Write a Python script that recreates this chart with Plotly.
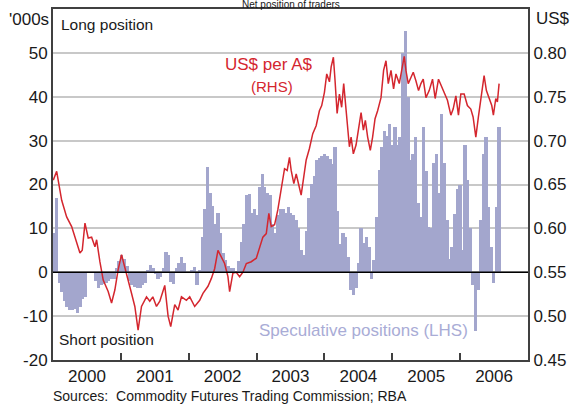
import plotly.graph_objects as go

# ---------------- data ----------------
# Speculative net positions ('000s contracts), fortnightly from early Jan 2000
spec_2000 = [9, 17, -2.5, -4.5, -6.5, -8, -8.6, -8.5, -8.3, -9.3, -7.9, -6, -5.6,
             0, 0, 0, -2, -3.5, -3, -2.6, -2.5, -2, -1.5, -1.5, 1.0, 2.5]
spec_2001 = [4, 3, 1.5, -2, -3, -3.3, -3.5, -3.5, -3, -2.5, 0.5, 1.6, 1, -0.5,
             -1.5, -1, 1, 4.6, 4, -2.2, -2.6, 1, 2, 3.5, 2, 0]
spec_2002 = [0, 0.5, 1.2, -3, 0.5, 8, 14.5, 24, 18, 15, 11, 13.5, 9, 4.3, 2.7,
             1.5, 1, 0.9, 0.3, 2.5, 7, 11, 17.5, 17.9, 13.5, 14.5]
spec_2003 = [13, 19.4, 22.5, 19.4, 18, 17.5, 11, 9, 13, 14.5, 14.5, 13.5, 14.8,
             13.5, 13, 12, 10, 5, 4, 9.5, 17, 20.2, 22, 25.5, 26, 26.6]
spec_2004 = [27, 26.5, 25.8, 24.7, 28.5, 14, 6.5, 9, 8, 3.5, -4, -5.2, -3.5, 2,
             10, 6.6, 8, 5.8, -1.5, 2.7, 12.6, 23.2, 28.5, 32.3, 31, 33.8]
spec_2005 = [29, 33, 29, 30.8, 50, 55, 40, 25.5, 27, 30.8, 15.7, 12.6, 33, 23,
             10.3, 10, 25, 27, 18, 36, 25, 12, 3, 5.8, 13.3, 19]
spec_2006 = [20, 5, 29, 21, 10, -3, -13.5, -4, 12, 27, 30.8, 14.8, 5.8, -2.5,
             14.8, 33]
spec_positions = spec_2000 + spec_2001 + spec_2002 + spec_2003 + spec_2004 + spec_2005 + spec_2006
first_bar_day = 6          # day of year of first observation
bar_step_days = 14         # fortnightly observations

# US$ per A$ (RHS): time in decimal years, value in US$
aud_year = [2000.004, 2000.054, 2000.128, 2000.201, 2000.275, 2000.349, 2000.397, 2000.431,
            2000.471, 2000.519, 2000.569, 2000.618, 2000.643, 2000.691, 2000.740, 2000.813,
            2000.863, 2000.912, 2000.960, 2001.010, 2001.059, 2001.107, 2001.157, 2001.206,
            2001.254, 2001.304, 2001.378, 2001.426, 2001.471, 2001.525, 2001.574, 2001.647,
            2001.696, 2001.735, 2001.794, 2001.843, 2001.893, 2001.966, 2002.015, 2002.088,
            2002.162, 2002.210, 2002.284, 2002.334, 2002.382, 2002.431, 2002.481, 2002.529,
            2002.578, 2002.603, 2002.651, 2002.701, 2002.750, 2002.799, 2002.849, 2002.922,
            2002.996, 2003.044, 2003.093, 2003.143, 2003.181, 2003.216, 2003.265, 2003.313,
            2003.363, 2003.412, 2003.451, 2003.485, 2003.510, 2003.549, 2003.584, 2003.618,
            2003.657, 2003.696, 2003.731, 2003.779, 2003.828, 2003.878, 2003.926, 2003.960,
            2004.000, 2004.034, 2004.074, 2004.099, 2004.132, 2004.157, 2004.187, 2004.221,
            2004.254, 2004.284, 2004.319, 2004.343, 2004.368, 2004.393, 2004.426, 2004.466,
            2004.500, 2004.540, 2004.574, 2004.603, 2004.637, 2004.676, 2004.710, 2004.746,
            2004.784, 2004.834, 2004.872, 2004.907, 2004.941, 2004.981, 2005.019, 2005.054,
            2005.103, 2005.143, 2005.176, 2005.201, 2005.235, 2005.275, 2005.309, 2005.349,
            2005.387, 2005.422, 2005.456, 2005.496, 2005.544, 2005.593, 2005.632, 2005.681,
            2005.731, 2005.765, 2005.813, 2005.863, 2005.897, 2005.937, 2005.975, 2006.010,
            2006.059, 2006.107, 2006.157, 2006.191, 2006.231, 2006.269, 2006.304, 2006.353,
            2006.387, 2006.426, 2006.466, 2006.490, 2006.525, 2006.549, 2006.574]
aud_usd = [0.655, 0.665, 0.632, 0.613, 0.602, 0.583, 0.572, 0.575,
           0.606, 0.589, 0.590, 0.579, 0.587, 0.562, 0.541, 0.528,
           0.515, 0.530, 0.553, 0.570, 0.556, 0.543, 0.526, 0.511,
           0.484, 0.511, 0.522, 0.517, 0.522, 0.511, 0.517, 0.535,
           0.500, 0.488, 0.513, 0.507, 0.522, 0.518, 0.522, 0.511,
           0.518, 0.526, 0.534, 0.543, 0.554, 0.575, 0.568, 0.560,
           0.545, 0.528, 0.549, 0.550, 0.545, 0.550, 0.560, 0.562,
           0.566, 0.579, 0.590, 0.594, 0.617, 0.602, 0.604, 0.621,
           0.647, 0.668, 0.666, 0.681, 0.666, 0.651, 0.662, 0.649,
           0.638, 0.659, 0.678, 0.691, 0.708, 0.717, 0.734, 0.740,
           0.755, 0.776, 0.767, 0.784, 0.795, 0.768, 0.731, 0.753,
           0.738, 0.765, 0.734, 0.715, 0.693, 0.704, 0.685, 0.695,
           0.712, 0.732, 0.712, 0.723, 0.704, 0.689, 0.704, 0.725,
           0.734, 0.749, 0.780, 0.791, 0.765, 0.780, 0.759, 0.776,
           0.765, 0.784, 0.796, 0.780, 0.765, 0.772, 0.778, 0.768,
           0.757, 0.765, 0.770, 0.749, 0.757, 0.770, 0.748, 0.770,
           0.761, 0.753, 0.746, 0.729, 0.736, 0.751, 0.729, 0.753,
           0.753, 0.740, 0.736, 0.727, 0.704, 0.727, 0.749, 0.774,
           0.757, 0.749, 0.740, 0.729, 0.748, 0.744, 0.765]

years = [2000, 2001, 2002, 2003, 2004, 2005, 2006]
year_labels = [str(y) for y in years]
left_ticks = [-20, -10, 0, 10, 20, 30, 40, 50]
right_ticks = [0.45, 0.50, 0.55, 0.60, 0.65, 0.70, 0.75, 0.80]

# ---------------- figure ----------------
FONT = "Arial, Liberation Sans, sans-serif"
TXT = "#1a1a1a"
BAR_C = "#a3a6cd"
RED = "#d4262e"

bar_x = [years[0] + (first_bar_day + bar_step_days * i) / 365.25 for i in range(len(spec_positions))]
bar_w = bar_step_days / 365.25 * 1.3

fig = go.Figure()
fig.add_trace(go.Bar(x=bar_x, y=spec_positions, width=bar_w, marker_color=BAR_C,
                     marker_line_width=0, yaxis="y", showlegend=False))
fig.add_trace(go.Scatter(x=aud_year, y=aud_usd, mode="lines", yaxis="y2",
                         line=dict(color=RED, width=1.5), showlegend=False))

fig.add_shape(type="line", xref="paper", x0=0, x1=1, yref="y", y0=0, y1=0,
              line=dict(color="#000000", width=1.5), layer="above")

fig.update_layout(
    width=573, height=404,
    margin=dict(l=53, r=45, t=9, b=44),
    plot_bgcolor="white", paper_bgcolor="white",
    font=dict(family=FONT, size=17, color=TXT),
    bargap=0,
    xaxis=dict(range=[years[0], years[-1] + 1], automargin=False,
               tickvals=[y + 0.5 for y in years], ticktext=year_labels,
               ticks="", showgrid=False, zeroline=False,
               showline=True, linecolor="#404040", linewidth=2, mirror=True,
               tickfont=dict(size=17, color=TXT),
               minor=dict(tickvals=years[1:], ticks="inside", ticklen=7,
                          tickcolor="#404040", tickwidth=1.5, showgrid=False)),
    yaxis=dict(range=[-20, 60], tickvals=left_ticks, automargin=False,
               ticktext=[str(v) for v in left_ticks],
               showgrid=True, gridcolor="#c8c8c8", gridwidth=1.5,
               zeroline=False, showline=True, linecolor="#404040", linewidth=2,
               ticks="", tickfont=dict(size=17, color=TXT)),
    yaxis2=dict(range=[0.45, 0.85], tickvals=right_ticks, automargin=False,
                ticktext=[f"{v:.2f}" for v in right_ticks],
                overlaying="y", side="right", showgrid=False, zeroline=False,
                showline=True, linecolor="#404040", linewidth=2,
                ticks="", tickfont=dict(size=17, color=TXT)),
)

def ann(text, x, y, xanchor="left", size=16, color=TXT):
    fig.add_annotation(text=text, xref="paper", yref="paper", x=x, y=y,
                       xanchor=xanchor, yanchor="middle", showarrow=False,
                       font=dict(family=FONT, size=size, color=color))

ann("Net position of traders", 0.50, 1.0135, "center", 10)
ann("'000s", -0.004, 0.969, "right", 17)
ann("US$", 1.012, 0.974, "left", 17)
ann("Long position", 0.012, 0.957, "left", 15.5)
ann("Short position", 0.008, 0.057, "left", 15.5)
ann("US$ per A$", 0.4547, 0.8405, "center", 17, RED)
ann("(RHS)", 0.46, 0.778, "center", 15, RED)
ann("Speculative positions (LHS)", 0.429, 0.083, "left", 17, "#a9acd6")
ann("Sources:  Commodity Futures Trading Commission; RBA", -0.004, -0.1017, "left", 14)

# the page is photographed from its top-left corner: drop the browser's default body margin
fig.write_html("out.html", config={"displayModeBar": False},
               post_script="document.body.style.margin='0px';")
